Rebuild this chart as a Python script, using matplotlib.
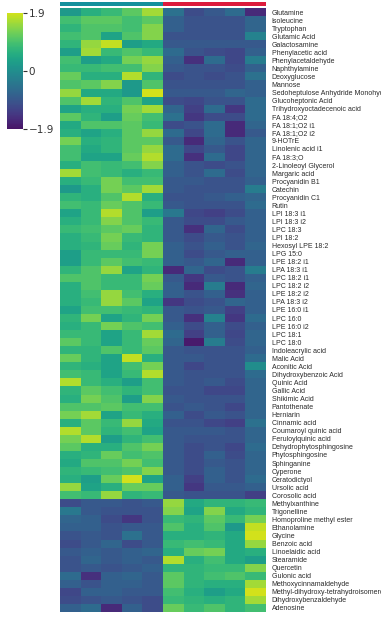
import numpy as np
import matplotlib
matplotlib.use("Agg")
import matplotlib.pyplot as plt
from matplotlib.colors import ListedColormap

metabolites = [
    "Glutamine", "Isoleucine", "Tryptophan", "Glutamic Acid", "Galactosamine",
    "Phenylacetic acid", "Phenylacetaldehyde", "Naphthylamine", "Deoxyglucose", "Mannose",
    "Sedoheptulose Anhydride Monohydrate", "Glucoheptonic Acid", "Trihydroxyoctadecenoic acid",
    "FA 18:4;O2", "FA 18:1;O2 i1", "FA 18:1;O2 i2", "9-HOTrE", "Linolenic acid i1", "FA 18:3;O",
    "2-Linoleoyl Glycerol", "Margaric acid", "Procyanidin B1", "Catechin", "Procyanidin C1",
    "Rutin", "LPI 18:3 i1", "LPI 18:3 i2", "LPC 18:3", "LPI 18:2", "Hexosyl LPE 18:2",
    "LPG 15:0", "LPE 18:2 i1", "LPA 18:3 i1", "LPC 18:2 i1", "LPC 18:2 i2", "LPE 18:2 i2",
    "LPA 18:3 i2", "LPE 16:0 i1", "LPC 16:0", "LPE 16:0 i2", "LPC 18:1", "LPC 18:0",
    "Indoleacrylic acid", "Malic Acid", "Aconitic Acid", "Dihydroxybenzoic Acid", "Quinic Acid",
    "Gallic Acid", "Shikimic Acid", "Pantothenate", "Herniarin", "Cinnamic acid",
    "Coumaroyl quinic acid", "Feruloylquinic acid", "Dehydrophytosphingosine", "Phytosphingosine",
    "Sphinganine", "Cyperone", "Ceratodictyol", "Ursolic acid", "Corosolic acid",
    "Methylxanthine", "Trigonelline", "Homoproline methyl ester", "Ethanolamine", "Glycine",
    "Benzoic acid", "Linoelaidic acid", "Stearamide", "Quercetin", "Gulonic acid",
    "Methoxycinnamaldehyde", "Methyl-dihydroxy-tetrahydroisomero", "Dihydroxybenzaldehyde",
    "Adenosine",
]

# z-scores, samples of group 1 (teal bar)
group1 = [
    [0.2, 0.6, 0.8, 1.1, 1.6], [0.9, 1.1, 1.1, 0.9, 1.1], [0.7, 1.0, 1.0, 0.9, 1.4],
    [0.9, 1.0, 0.4, 1.0, 1.4], [0.7, 1.5, 1.8, 0.3, 0.5], [0.3, 1.6, 0.8, 1.0, 0.8],
    [0.9, 0.3, 0.5, 1.3, 1.5], [0.8, 0.8, 0.9, 0.9, 1.4], [1.2, 0.6, 0.6, 1.7, 0.7],
    [1.0, 1.1, 1.4, 0.2, 1.0], [1.5, 0.5, 0.5, 0.2, 1.9], [1.0, 1.6, 0.7, 1.0, 0.4],
    [0.4, 0.6, 0.6, 1.3, 1.6], [1.1, 0.7, 0.3, 1.2, 0.9], [0.5, 1.0, 1.0, 1.1, 0.8],
    [0.6, 0.4, 0.6, 1.1, 1.5], [1.3, 0.6, 0.7, 1.1, 1.1], [0.9, 0.5, 0.7, 1.1, 1.5],
    [0.9, 0.4, 0.4, 1.2, 1.7], [0.6, 0.9, 0.8, 0.9, 1.4], [1.6, 0.9, 0.8, 0.6, 0.8],
    [0.6, 0.8, 1.3, 0.9, 0.9], [0.2, 0.6, 1.3, 1.1, 1.6], [0.7, 0.6, 1.0, 1.7, 0.6],
    [0.9, 0.8, 1.2, 1.0, 0.8], [0.4, 0.8, 1.7, 1.0, 0.3], [0.6, 0.8, 1.4, 1.0, 0.8],
    [0.8, 0.9, 1.1, 1.2, 0.7], [0.6, 0.8, 1.3, 0.8, 0.7], [0.6, 0.7, 1.2, 0.7, 1.3],
    [0.3, 0.8, 0.8, 0.8, 1.3], [0.3, 0.8, 1.1, 0.9, 0.8], [0.7, 1.0, 1.5, 0.4, 0.7],
    [1.0, 1.0, 0.8, 0.8, 1.3], [0.6, 1.0, 0.8, 0.8, 1.2], [0.6, 0.9, 1.5, 0.9, 0.6],
    [0.6, 0.8, 1.5, 1.1, 0.4], [0.4, 0.9, 0.9, 0.8, 0.7], [0.7, 1.3, 0.4, 0.7, 1.3],
    [0.6, 0.8, 1.3, 1.0, 0.9], [0.8, 0.8, 0.4, 0.8, 1.6], [1.1, 0.8, 0.4, 0.8, 1.2],
    [0.7, 0.7, 1.0, 0.8, 1.1], [1.2, 0.7, 0.4, 1.8, 0.6], [0.7, 0.6, 0.4, 0.9, 1.3],
    [0.9, 0.8, 0.4, 0.8, 1.7], [1.7, 0.8, 0.6, 0.3, 0.9], [0.7, 1.1, 0.9, 0.7, 0.9],
    [0.6, 1.3, 1.0, 0.3, 1.4], [1.0, 1.0, 1.1, 0.9, 0.9], [1.3, 1.6, 0.4, 0.8, 0.6],
    [0.6, 1.1, 0.8, 1.5, 0.5], [1.7, 1.1, 0.7, 0.9, 0.4], [1.3, 1.7, 0.3, 0.7, 0.9],
    [1.1, 0.6, 0.6, 1.0, 1.3], [0.6, 0.7, 1.2, 0.9, 1.0], [0.5, 1.0, 1.0, 1.3, 0.9],
    [0.7, 0.8, 0.9, 1.0, 1.4], [0.6, 0.3, 1.2, 1.9, 0.4], [1.5, 0.4, 0.6, 1.2, 1.2],
    [0.9, 0.8, 1.5, 0.7, 0.8],
    [-1.1, -0.9, -0.9, -1.0, -0.9], [-0.4, -0.9, -1.0, -1.0, -1.0], [-0.7, -0.8, -1.1, -1.4, -1.0],
    [-0.8, -0.8, -1.0, -0.9, -0.9], [-1.0, -0.9, -1.0, -0.5, -0.9], [-1.1, -0.9, -0.7, -1.1, -0.9],
    [-0.9, -0.8, -0.9, -0.8, -0.7], [-1.0, -0.7, -0.9, -0.8, -0.9], [-1.0, -0.9, -1.0, -0.9, -0.8],
    [-0.6, -1.5, -0.8, -0.7, -0.9], [-0.8, -1.0, -0.8, -0.8, -0.9], [-1.2, -0.8, -0.8, -0.9, -0.9],
    [-1.1, -1.0, -0.9, -1.0, -1.1], [-0.8, -0.6, -1.6, -0.8, -1.1],
]

# z-scores, samples of group 2 (red bar)
group2 = [
    [-0.5, -1.1, -0.9, -0.6, -1.6], [-0.8, -1.0, -1.0, -1.0, -0.7], [-0.8, -1.0, -1.0, -1.0, -0.7],
    [-1.0, -1.0, -1.0, -1.0, -0.2], [-0.9, -0.9, -0.9, -0.9, -0.9], [-0.6, -1.0, -1.1, -1.2, -0.8],
    [-0.8, -1.5, -0.6, -1.2, -0.3], [-0.9, -1.0, -1.0, -1.1, -0.8], [-1.1, -1.0, -1.1, -1.0, -0.5],
    [-1.0, -1.0, -1.0, -1.0, -0.8], [-0.9, -0.9, -0.9, -0.7, -0.8], [-1.1, -1.2, -1.0, -1.0, -0.6],
    [-0.7, -1.3, -0.6, -1.4, -0.6], [-0.5, -1.4, -1.1, -1.1, -0.6], [-1.1, -1.0, -0.6, -1.6, -0.7],
    [-0.6, -1.2, -0.6, -1.6, -0.9], [-0.9, -1.6, -0.7, -1.0, -0.7], [-0.6, -1.2, -0.9, -1.2, -0.7],
    [-0.6, -1.5, -0.6, -1.2, -0.7], [-0.8, -1.0, -1.1, -1.0, -0.7], [-0.8, -1.0, -0.6, -1.1, -0.7],
    [-0.9, -0.9, -1.0, -1.0, -0.8], [-0.9, -1.0, -1.0, -1.0, -0.3], [-1.0, -1.0, -0.9, -0.8, -0.7],
    [-0.9, -1.0, -1.0, -1.0, -0.6], [-0.4, -1.2, -1.3, -1.1, -0.8], [-0.9, -1.1, -1.1, -0.9, -0.8],
    [-0.9, -1.5, -0.7, -1.1, -0.8], [-0.9, -1.1, -0.9, -1.0, -0.8], [-0.8, -1.0, -0.8, -1.0, -0.7],
    [-0.8, -1.1, -0.9, -0.8, -0.8], [-0.8, -0.9, -0.7, -1.6, -0.8], [-1.6, -0.7, -1.1, -1.0, -0.3],
    [-0.9, -1.4, -0.9, -1.0, -0.8], [-0.8, -1.6, -0.3, -1.6, -0.7], [-0.8, -1.0, -0.8, -1.5, -0.8],
    [-1.4, -1.1, -1.0, -0.7, -0.8], [-0.9, -1.0, -0.9, -1.3, -0.8], [-0.9, -1.5, -0.2, -1.4, -0.6],
    [-0.8, -1.1, -0.8, -1.1, -0.8], [-0.6, -1.3, -0.8, -1.2, -0.7], [-0.7, -1.8, -0.3, -1.1, -0.7],
    [-0.9, -1.0, -1.0, -1.0, -0.8], [-0.9, -0.9, -1.0, -1.0, -0.6], [-0.9, -1.2, -1.0, -1.0, 0.0],
    [-0.9, -1.0, -1.0, -1.0, -0.6], [-0.9, -1.0, -0.9, -1.1, -0.7], [-1.0, -1.0, -1.2, -1.2, -0.7],
    [-0.9, -1.0, -1.0, -1.0, -0.7], [-1.0, -0.9, -1.0, -1.2, -0.7], [-0.8, -1.1, -0.9, -1.0, -0.7],
    [-1.0, -1.0, -1.2, -1.3, -0.5], [-0.9, -0.9, -0.9, -1.0, -0.7], [-0.9, -1.0, -1.0, -1.0, -0.7],
    [-0.9, -1.1, -1.0, -1.2, -0.6], [-0.9, -1.1, -0.8, -1.1, -0.7], [-0.9, -1.1, -0.9, -1.0, -0.7],
    [-0.9, -1.1, -0.8, -1.0, -0.7], [-0.8, -1.3, -0.8, -1.0, -0.6], [-0.8, -1.4, -0.9, -0.9, -0.8],
    [-0.9, -1.0, -1.0, -1.0, -1.3],
    [1.5, 0.5, 0.7, 0.7, 0.8], [1.4, 0.4, 1.4, 0.5, 0.7], [0.8, 0.7, 1.1, 0.8, 1.3],
    [1.0, 0.6, 1.0, 0.2, 1.8], [0.6, 0.6, 0.7, 0.5, 1.9], [0.8, 0.9, 0.8, 0.5, 1.5],
    [0.6, 1.2, 1.3, 0.5, 0.6], [1.7, 0.6, 0.9, 0.5, 0.3], [0.7, 0.7, 0.8, 0.8, 1.4],
    [1.1, 0.7, 0.9, 1.0, 0.8], [1.1, 0.7, 0.6, 0.6, 1.6], [0.9, 0.6, 0.3, 0.5, 1.9],
    [0.8, 0.7, 0.6, 0.7, 1.6], [1.2, 0.8, 1.0, 0.7, 0.9],
]

vmin, vmax = -1.9, 1.9
cbar_ticks = [1.9, 0, -1.9]
cbar_labels = ["1.9", "0", "\u22121.9"]
group_colors = ["#14909c", "#dc1b3c"]

data = np.hstack([np.array(group1), np.array(group2)])
cmap = ListedColormap(plt.cm.viridis(np.linspace(0.05, 0.93, 256)))

W, H = 381, 627
fig = plt.figure(figsize=(W / 100, H / 100), dpi=100)

def box(x0, y0, x1, y1):
    # pixel box (top-left origin) -> figure fraction
    return [x0 / W, 1 - y1 / H, (x1 - x0) / W, (y1 - y0) / H]

ax = fig.add_axes(box(60, 8, 266, 612))
ax.imshow(data, cmap=cmap, vmin=vmin, vmax=vmax, aspect="auto", interpolation="nearest")
ax.set_xticks([])
ax.set_yticks(np.arange(len(metabolites)))
ax.set_yticklabels(metabolites, fontsize=5.0, family="Liberation Sans", color="#2a2a2a")
ax.yaxis.tick_right()
ax.tick_params(axis="y", length=0, pad=4)
for s in ax.spines.values():
    s.set_visible(False)

# group annotation bar
n1, n2 = len(group1[0]), len(group2[0])
bar = fig.add_axes(box(60, 1.5, 266, 6))
bar.imshow(np.array([[0] * n1 + [1] * n2]),
           cmap=ListedColormap(group_colors), aspect="auto", interpolation="nearest")
bar.axis("off")

# colour bar
cax = fig.add_axes(box(7, 13, 23, 129))
sm = plt.cm.ScalarMappable(cmap=cmap, norm=plt.Normalize(vmin, vmax))
cb = fig.colorbar(sm, cax=cax)
cb.outline.set_visible(False)
cb.set_ticks(cbar_ticks)
cb.set_ticklabels(cbar_labels)
cax.tick_params(length=3, width=0.8, color="#333333", labelsize=7.5, labelcolor="#333333", pad=1)

fig.savefig("out.png", dpi=100)
